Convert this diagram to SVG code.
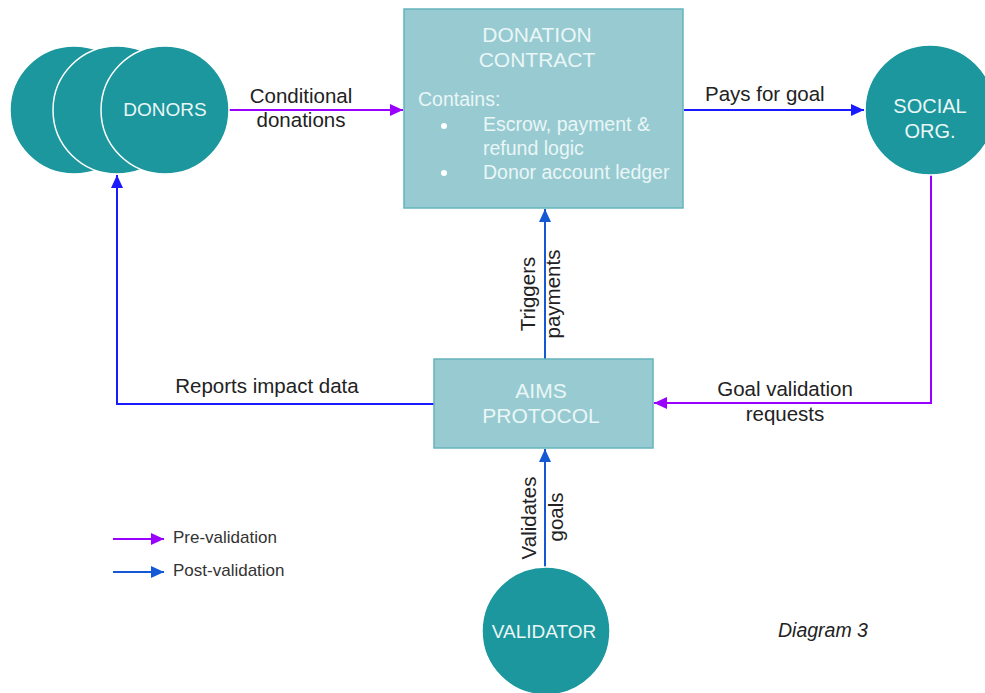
<svg xmlns="http://www.w3.org/2000/svg" width="985" height="693" viewBox="0 0 985 693">
<style>
text{font-family:"Liberation Sans",Arial,sans-serif}
.circ{fill:#1b979d;stroke:#ffffff;stroke-width:1.5}
.box{fill:#97cbd1;stroke:#64b4ba;stroke-width:1.5}
.wt{fill:#eaf6f7}
.lbl{fill:#222222;font-size:20.5px}
.line{fill:none;stroke-width:2}
.pur{stroke:#9a00ff}
.blu{stroke:#1a1aff}
.mid{stroke:#1458d6}
.leg{fill:#333333;font-size:17px}
</style>
<defs>
<marker id="ap" markerUnits="userSpaceOnUse" markerWidth="14" markerHeight="12" refX="13" refY="6" orient="auto"><path d="M0,0 L13,6 L0,12 Z" fill="#9a00ff"/></marker>
<marker id="ab" markerUnits="userSpaceOnUse" markerWidth="14" markerHeight="12" refX="13" refY="6" orient="auto"><path d="M0,0 L13,6 L0,12 Z" fill="#1a1aff"/></marker>
<marker id="am" markerUnits="userSpaceOnUse" markerWidth="14" markerHeight="12" refX="13" refY="6" orient="auto"><path d="M0,0 L13,6 L0,12 Z" fill="#1458d6"/></marker>
</defs>
<rect width="985" height="693" fill="#ffffff"/>

<g id="connectors">
<line class="line pur" x1="229" y1="110" x2="403" y2="110" marker-end="url(#ap)"/>
<line class="line blu" x1="684" y1="110" x2="864" y2="110" marker-end="url(#ab)"/>
<polyline class="line pur" points="931,174 931,403 654,403" marker-end="url(#ap)"/>
<polyline class="line blu" points="434,404 117,404 117,175" marker-end="url(#ab)"/>
<line class="line mid" x1="545" y1="359" x2="545" y2="209" marker-end="url(#am)"/>
<line class="line mid" x1="545" y1="567" x2="545" y2="449" marker-end="url(#am)"/>
<text class="lbl" x="301" y="103" text-anchor="middle">Conditional</text>
<text class="lbl" x="301" y="127" text-anchor="middle">donations</text>
<text class="lbl" x="705" y="101">Pays for goal</text>
<text class="lbl" x="267" y="393" text-anchor="middle">Reports impact data</text>
<text class="lbl" x="785" y="396" text-anchor="middle">Goal validation</text>
<text class="lbl" x="785" y="421" text-anchor="middle">requests</text>
<text class="lbl" text-anchor="middle" transform="translate(535,294) rotate(-90)">Triggers</text>
<text class="lbl" text-anchor="middle" transform="translate(560,294) rotate(-90)">payments</text>
<text class="lbl" text-anchor="middle" transform="translate(536,518) rotate(-90)">Validates</text>
<text class="lbl" text-anchor="middle" transform="translate(563,517) rotate(-90)">goals</text>
</g>

<g id="donors">
<circle class="circ" cx="74" cy="110" r="64"/>
<circle class="circ" cx="117" cy="110" r="64"/>
<circle class="circ" cx="165" cy="110" r="64"/>
<text class="wt" x="165" y="116" text-anchor="middle" font-size="19">DONORS</text>
</g>

<g id="donation-contract">
<rect class="box" x="404" y="9" width="279" height="199"/>
<text class="wt" x="537" y="42" text-anchor="middle" font-size="21">DONATION</text>
<text class="wt" x="537" y="67" text-anchor="middle" font-size="21">CONTRACT</text>
<text class="wt" x="418" y="106" font-size="19.5">Contains:</text>
<circle cx="444" cy="126" r="3" fill="#ffffff"/>
<text class="wt" x="483" y="131" font-size="19.5">Escrow, payment &amp;</text>
<text class="wt" x="483" y="155" font-size="19.5">refund logic</text>
<circle cx="444" cy="173" r="3" fill="#ffffff"/>
<text class="wt" x="483" y="179" font-size="19.5">Donor account ledger</text>
</g>

<g id="social-org">
<circle class="circ" cx="930" cy="110" r="65"/>
<text class="wt" x="930" y="113" text-anchor="middle" font-size="20">SOCIAL</text>
<text class="wt" x="930" y="138" text-anchor="middle" font-size="20">ORG.</text>
</g>

<g id="aims-protocol">
<rect class="box" x="434" y="359" width="219" height="89"/>
<text class="wt" x="541" y="398" text-anchor="middle" font-size="21">AIMS</text>
<text class="wt" x="541" y="423" text-anchor="middle" font-size="21">PROTOCOL</text>
</g>

<g id="validator">
<circle class="circ" cx="546" cy="631" r="64"/>
<text class="wt" x="544" y="638" text-anchor="middle" font-size="19">VALIDATOR</text>
</g>

<g id="legend">
<line class="line pur" x1="113" y1="539" x2="164" y2="539" marker-end="url(#ap)"/>
<text class="leg" x="173" y="543">Pre-validation</text>
<line class="line mid" x1="113" y1="572" x2="164" y2="572" marker-end="url(#am)"/>
<text class="leg" x="173" y="576">Post-validation</text>
</g>

<text x="778" y="637" font-size="19.5" font-style="italic" fill="#222222">Diagram 3</text>
</svg>
